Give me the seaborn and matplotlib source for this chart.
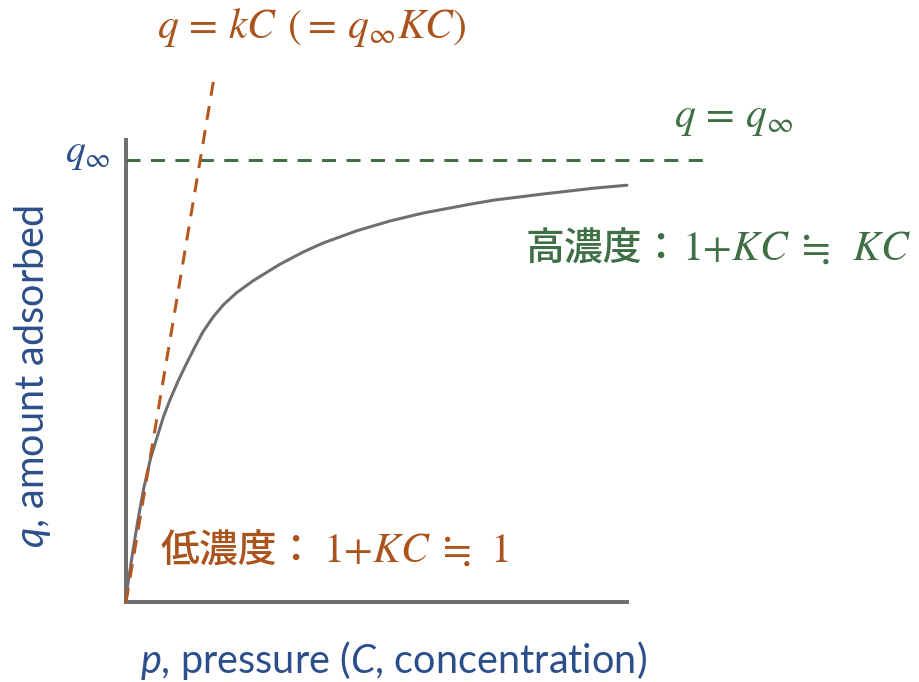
import matplotlib
matplotlib.use("Agg")
import matplotlib.pyplot as plt
import seaborn as sns
import pandas as pd

# ---------------- data ----------------
conc = [0.0, 0.03, 0.13, 0.23, 0.35, 0.49, 0.75, 0.88, 1.04, 1.21, 1.38, 1.54,
        1.74, 1.94, 2.21, 2.54, 3.07, 3.54, 3.93, 4.61, 5.27, 5.93, 6.87, 7.33,
        8.32, 9.32, 10.0]
amount = [0.0, 0.035, 0.110, 0.180, 0.255, 0.325, 0.420, 0.458, 0.500, 0.540,
          0.578, 0.612, 0.645, 0.672, 0.700, 0.727, 0.764, 0.792, 0.812, 0.840,
          0.862, 0.880, 0.900, 0.909, 0.923, 0.936, 0.943]
tangent_c = [0.0, 1.77]
tangent_q = [0.0, 1.195]
qmax_c = [0.0, 11.52]
qmax_q = [1.0, 1.0]

top_formula = r"$q\,=\,kC\;\,(=\,q_{\infty}KC)$"
qmax_formula = r"$q\,=\,q_{\infty}$"
qmax_tick = r"$q_{\infty}$"
high_cjk = "高濃度："
high_math = r"$1{+}KC\;\fallingdotseq\;\;KC$"
low_cjk = "低濃度："
low_math = r"$1{+}KC\;\fallingdotseq\;\,1$"
xlabel = r"$p$, pressure ($C$, concentration)"
ylabel = r"$q$, amount adsorbed"

# ---------------- style ----------------
sns.set_theme(style="white")
plt.rcParams["font.family"] = ["Lato", "DejaVu Sans"]
plt.rcParams["lines.scale_dashes"] = False
plt.rcParams["mathtext.fontset"] = "custom"
plt.rcParams["mathtext.rm"] = "Lato"
plt.rcParams["mathtext.it"] = "Lato:italic"

BROWN = "#ab531c"
GREEN = "#3e6f45"
BLUE = "#2c4f8b"
GRAY = "#6d6d73"
AXIS = "#707070"

W, H = 919, 682
fig = plt.figure(figsize=(W / 100, H / 100), dpi=100)
fig.patch.set_facecolor("white")
ax = fig.add_axes([0, 0, 1, 1])
ax.set_facecolor("white")

# scales: origin at pixel (126, 602); 50.1 px per C unit, 442 px per q unit
ax.set_xlim(-126 / 50.1, (W - 126) / 50.1)
ax.set_ylim(-(H - 602) / 442, 602 / 442)

LW = 2.16  # 3 px

sns.lineplot(x=conc, y=amount, ax=ax, color=GRAY, lw=LW, sort=False,
             estimator=None, zorder=3, solid_joinstyle="round")
sns.lineplot(x=qmax_c, y=qmax_q, ax=ax, color=GREEN, lw=LW, sort=False,
             estimator=None, zorder=4)
ax.lines[-1].set_dashes([10.1, 7.5])
sns.lineplot(x=tangent_c, y=tangent_q, ax=ax, color="#b5571d", lw=LW, sort=False,
             estimator=None, zorder=5)
ax.lines[-1].set_dashes([10.1, 7.5])

# axes as spines through the origin
for s in ["top", "right"]:
    ax.spines[s].set_visible(False)
ax.spines["left"].set_position(("data", 0))
ax.spines["bottom"].set_position(("data", 0))
ax.spines["left"].set_bounds(0, 1.045)
ax.spines["bottom"].set_bounds(0, 10)
for s in ["left", "bottom"]:
    ax.spines[s].set_color(AXIS)
    ax.spines[s].set_linewidth(2.88)
    ax.spines[s].set_zorder(2)
ax.set_xticks([])
ax.set_yticks([])


def ftext(px, py, s, **kw):
    fig.text(px / W, 1 - py / H, s, **kw)


ftext(312, 38, top_formula, fontsize=30, color=BROWN, ha="center",
      va="baseline", math_fontfamily="stix")
ftext(674, 127, qmax_formula, fontsize=30, color=GREEN, ha="left",
      va="baseline", math_fontfamily="stix")
ftext(65, 162, qmax_tick, fontsize=28.5, color=BLUE, ha="left",
      va="baseline", math_fontfamily="stix")

ftext(526, 261, high_cjk, fontsize=28, color=GREEN, ha="left", va="baseline",
      family=["Noto Sans CJK JP", "DejaVu Sans"], fontweight="medium")
ftext(682, 260, high_math, fontsize=30, color=GREEN, ha="left", va="baseline",
      math_fontfamily="stix")

ftext(161, 563, low_cjk, fontsize=28, color=BROWN, ha="left", va="baseline",
      family=["Noto Sans CJK JP", "DejaVu Sans"], fontweight="medium")
ftext(323, 562, low_math, fontsize=30, color=BROWN, ha="left", va="baseline",
      math_fontfamily="stix")

ftext(393, 660, xlabel, fontsize=28.5, color=BLUE, ha="center", va="center",
      math_fontfamily="custom")
ftext(33, 376, ylabel, fontsize=28.5, color=BLUE, ha="center", va="center",
      rotation=90, math_fontfamily="custom")

fig.savefig("out.png", dpi=100, facecolor="white")
